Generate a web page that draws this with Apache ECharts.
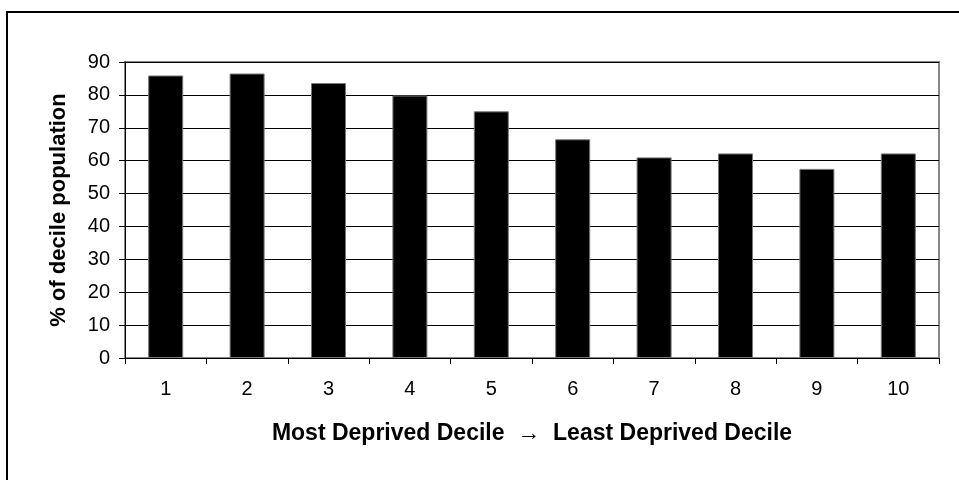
<!DOCTYPE html>
<html><head><meta charset="utf-8">
<script src="https://cdn.jsdelivr.net/npm/echarts@6/dist/echarts.min.js"></script>
<style>html,body{margin:0;padding:0;background:#fff}#c{width:959px;height:480px}</style>
</head><body><div id="c"></div>
<script>
const categories = ['1','2','3','4','5','6','7','8','9','10'];
const values = [85.9, 86.5, 83.6, 79.8, 75.0, 66.5, 61.0, 62.2, 57.5, 62.2];
const yTicks = {min: 0, max: 90, interval: 10};
const xTitle = 'Most Deprived Decile  \u2192  Least Deprived Decile';
const yTitle = '% of decile population';

const chart = echarts.init(document.getElementById('c'), null, {renderer: 'canvas'});
const font = 'Liberation Sans, Arial, sans-serif';
chart.setOption({
  animation: false,
  backgroundColor: '#fff',
  grid: {left: 125, right: 20, top: 62, bottom: 122, show: true, borderColor: '#888', borderWidth: 2, backgroundColor: 'transparent'},
  graphic: [{type: 'rect', shape: {x: 7, y: 12, width: 1000, height: 500}, style: {fill: 'none', stroke: '#000', lineWidth: 2}, silent: true, z: 100}],
  xAxis: {
    type: 'category', data: categories,
    name: xTitle, nameLocation: 'middle', nameGap: 64,
    nameTextStyle: {fontFamily: font, fontSize: 23, fontWeight: 'bold', color: '#000'},
    axisLine: {lineStyle: {color: '#000', width: 1}},
    axisTick: {show: true, alignWithLabel: false, length: 6, inside: false, lineStyle: {color: '#000'}},
    axisLabel: {fontFamily: font, fontSize: 20, color: '#000', margin: 21},
    splitLine: {show: false}
  },
  yAxis: {
    type: 'value', min: yTicks.min, max: yTicks.max, interval: yTicks.interval,
    name: yTitle, nameLocation: 'middle', nameGap: 55, nameRotate: 90,
    nameTextStyle: {fontFamily: font, fontSize: 22, fontWeight: 'bold', color: '#000'},
    axisLine: {show: true, lineStyle: {color: '#000', width: 1}},
    axisTick: {show: true, length: 6, lineStyle: {color: '#000'}},
    axisLabel: {fontFamily: font, fontSize: 20, color: '#000', margin: 15},
    splitLine: {show: true, lineStyle: {color: '#000', width: 1}}
  },
  series: [{
    type: 'bar', data: values, barWidth: '43%',
    itemStyle: {color: '#000', borderColor: '#777', borderWidth: 1}
  }]
});
</script></body></html>
